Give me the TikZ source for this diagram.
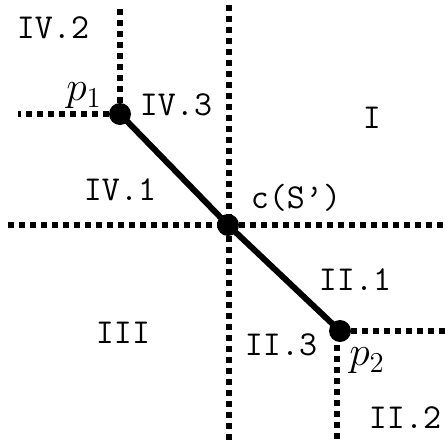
\documentclass[tikz,border=0pt]{standalone}
\begin{document}
\begin{tikzpicture}[x=0.5pt,y=-0.5pt,
  grid/.style={line width=2.9pt,dash pattern=on 3pt off 2.5pt},
  lbl/.style={font=\fontsize{17.5}{19}\ttfamily,inner sep=0pt},
  plbl/.style={font=\fontsize{20}{22}\selectfont,inner sep=0pt}]
\useasboundingbox (0,0) rectangle (445,445);

\coordinate (c) at (228,225);
\coordinate (p1) at (120,114);
\coordinate (p2) at (340,331);

% dotted lines through c
\draw[grid] (229,5)--(229,442);
\draw[grid] (8,225)--(445,225);

% dotted lines at p1 and p2
\draw[grid] (p1)--(120,5);
\draw[grid] (p1)--(18,114);
\draw[grid] (p2)--(445,331);
\draw[grid] (337,345)--(337,442);

\draw[line width=3pt] (p1)--(c)--(p2);

\fill (p1) circle (5.5pt);
\fill (c) circle (5.5pt);
\fill (p2) circle (5.5pt);

\node[lbl] (iv2) at (53,28) {IV.2};
\node[lbl] (iv3) at (176,105) {IV.3};
\node[lbl] (iv1) at (120,190) {IV.1};
\node[lbl] (i) at (372,118) {I};
\node[lbl] (cs) at (296,198) {c(S\textquoteright)};
\node[lbl] (ii1) at (355,280) {II.1};
\node[lbl] (ii3) at (281,345) {II.3};
\node[lbl] (iii) at (123,333) {III};
\node[lbl] (ii2) at (405,418) {II.2};
\node[plbl] (lp1) at (84,96) {$p_1$};
\node[plbl] (lp2) at (367,361) {$p_2$};
\end{tikzpicture}
\end{document}
